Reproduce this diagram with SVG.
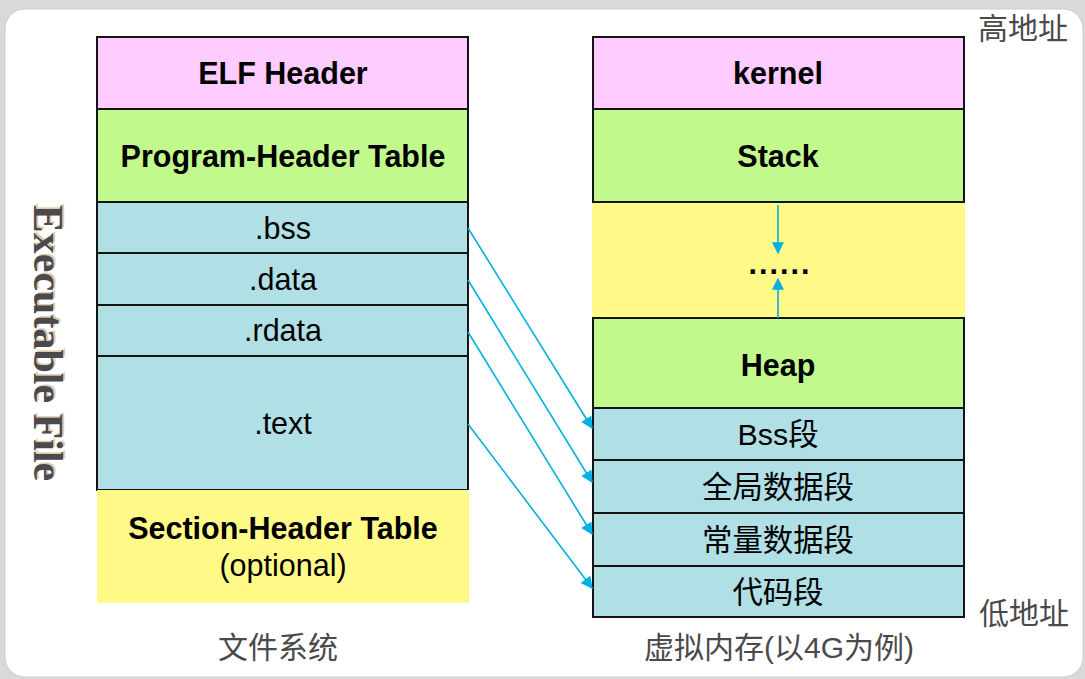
<svg xmlns="http://www.w3.org/2000/svg" width="1085" height="679" viewBox="0 0 1085 679">
  <style>
    .box { stroke: #141414; stroke-width: 2; }
    .pink { fill: #ffccff; }
    .green { fill: #c2f98c; }
    .blue { fill: #b0e0e6; }
    .yellow { fill: #fffa88; }
    .bold { font-family: "Liberation Sans", Arial, sans-serif; font-weight: bold; font-size: 30.5px; fill: #000; text-anchor: middle; }
    .reg { font-family: "Liberation Sans", Arial, sans-serif; font-size: 30.5px; fill: #000; text-anchor: middle; }
    .cjk { font-family: "Liberation Sans", "Noto Sans CJK SC", sans-serif; font-size: 30.4px; fill: #000; text-anchor: middle; }
    .note { font-family: "Liberation Sans", "Noto Sans CJK SC", sans-serif; font-size: 30px; fill: #4a4a4a; text-anchor: middle; }
    .link { stroke: #00b0e0; stroke-width: 1.6; fill: none; }
  </style>
  <defs>
    <marker id="arrowBig" viewBox="0 0 10 10" refX="9" refY="5" markerWidth="13" markerHeight="12" markerUnits="userSpaceOnUse" orient="auto">
      <path d="M0,0 L10,5 L0,10 z" fill="#00b0e0"/>
    </marker>
  </defs>

  <!-- page background and card -->
  <rect x="0" y="0" width="1085" height="679" fill="#d9d9d9"/>
  <rect x="5" y="9" width="1078" height="668" rx="20" ry="20" fill="#ffffff" stroke="#cfcfcf" stroke-width="1"/>

  <!-- side caption -->
  <g id="caption-executable">
    <text transform="translate(34,343) rotate(90)" x="-1.5" y="-1.5" font-family="'Liberation Serif', 'Times New Roman', serif" font-weight="bold" font-size="42" fill="#e2c9a8" text-anchor="middle">Executable File</text>
    <text transform="translate(34,343) rotate(90)" x="0" y="0" font-family="'Liberation Serif', 'Times New Roman', serif" font-weight="bold" font-size="42" fill="#4a4a4e" text-anchor="middle">Executable File</text>
  </g>

  <!-- ELF file layout -->
  <g id="elf-header">
    <rect class="box pink" x="97" y="37" width="371" height="72"/>
    <text class="bold" x="283" y="84">ELF Header</text>
  </g>
  <g id="program-header-table">
    <rect class="box green" x="97" y="109" width="371" height="93"/>
    <text class="bold" x="283" y="167">Program-Header Table</text>
  </g>
  <g id="sec-bss">
    <rect class="box blue" x="97" y="202" width="371" height="51"/>
    <text class="reg" x="283" y="239">.bss</text>
  </g>
  <g id="sec-data">
    <rect class="box blue" x="97" y="253" width="371" height="52"/>
    <text class="reg" x="283" y="290">.data</text>
  </g>
  <g id="sec-rdata">
    <rect class="box blue" x="97" y="305" width="371" height="51"/>
    <text class="reg" x="283" y="341">.rdata</text>
  </g>
  <g id="sec-text">
    <rect class="box blue" x="97" y="356" width="371" height="134"/>
    <text class="reg" x="283" y="434">.text</text>
  </g>
  <g id="section-header-table">
    <rect class="yellow" x="97" y="490" width="372" height="113"/>
    <text class="bold" x="283" y="539">Section-Header Table</text>
    <text class="reg" x="283" y="576">(optional)</text>
  </g>
  <g id="label-fs">
    <text class="note" x="278" y="658">文件系统</text>
  </g>

  <!-- virtual memory layout -->
  <g id="kernel">
    <rect class="box pink" x="593" y="37" width="371" height="72"/>
    <text class="bold" x="778" y="84">kernel</text>
  </g>
  <g id="stack">
    <rect class="box green" x="593" y="109" width="371" height="93"/>
    <text class="bold" x="778" y="167">Stack</text>
  </g>
  <g id="free-gap">
    <rect class="yellow" x="592" y="203" width="373" height="114"/>
    <text class="bold" x="780" y="274" letter-spacing="2">......</text>
  </g>
  <g id="heap">
    <rect class="box green" x="593" y="318" width="371" height="90"/>
    <text class="bold" x="778" y="376">Heap</text>
  </g>
  <g id="seg-bss">
    <rect class="box blue" x="593" y="408" width="371" height="52"/>
    <text class="cjk" x="778" y="445">Bss段</text>
  </g>
  <g id="seg-global">
    <rect class="box blue" x="593" y="460" width="371" height="53"/>
    <text class="cjk" x="778" y="498">全局数据段</text>
  </g>
  <g id="seg-const">
    <rect class="box blue" x="593" y="513" width="371" height="53"/>
    <text class="cjk" x="778" y="551">常量数据段</text>
  </g>
  <g id="seg-code">
    <rect class="box blue" x="593" y="566" width="371" height="51"/>
    <text class="cjk" x="778" y="603">代码段</text>
  </g>
  <g id="label-vm">
    <text class="note" x="779" y="658">虚拟内存(以4G为例)</text>
  </g>
  <g id="label-high">
    <text class="note" x="1023" y="39">高地址</text>
  </g>
  <g id="label-low">
    <text class="note" x="1024" y="624">低地址</text>
  </g>

  <!-- connectors -->
  <g id="connectors">
    <line class="link" x1="468" y1="228" x2="592" y2="428" marker-end="url(#arrowBig)"/>
    <line class="link" x1="468" y1="280" x2="592" y2="482" marker-end="url(#arrowBig)"/>
    <line class="link" x1="468" y1="332" x2="592" y2="534" marker-end="url(#arrowBig)"/>
    <line class="link" x1="468" y1="424" x2="592" y2="588" marker-end="url(#arrowBig)"/>
    <line class="link" x1="778" y1="205" x2="778" y2="253" marker-end="url(#arrowBig)"/>
    <line class="link" x1="778" y1="318" x2="778" y2="279" marker-end="url(#arrowBig)"/>
  </g>
</svg>
